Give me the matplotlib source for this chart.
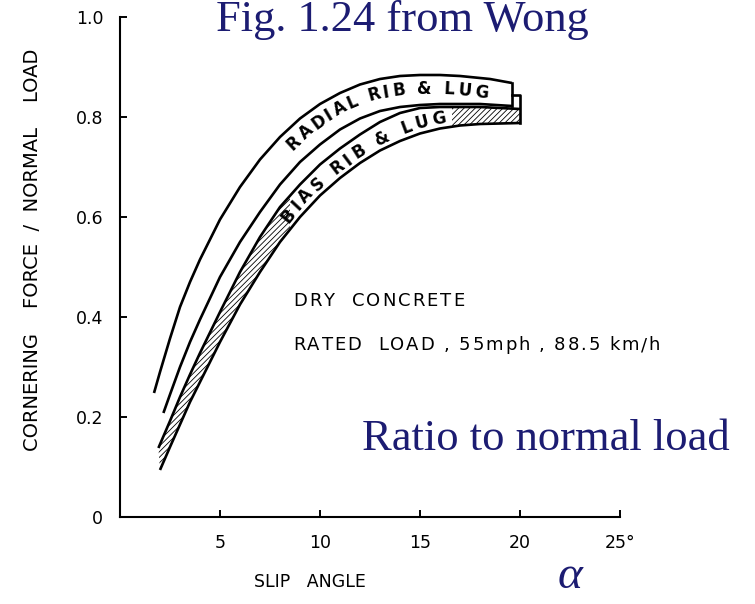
import numpy as np
import matplotlib
matplotlib.use("Agg")
import matplotlib.pyplot as plt
from matplotlib.patches import Polygon

plt.rcParams["font.family"] = ["DejaVu Sans"]
plt.rcParams["hatch.linewidth"] = 0.6

# curves (slip angle in degrees, cornering force / normal load)
radial_top_x = [1.7, 2.0, 2.5, 3.0, 3.5, 4.0, 5.0, 6.0, 7.0, 8.0, 9.0, 10.0, 11.0, 12.0, 13.0, 14.0, 15.0, 16.0, 17.0, 18.5, 19.6]
radial_top_y = [0.248, 0.29, 0.357, 0.42, 0.47, 0.515, 0.595, 0.66, 0.715, 0.76, 0.797, 0.826, 0.848, 0.865, 0.876, 0.882, 0.884, 0.884, 0.882, 0.876, 0.868]

radial_bot_x = [2.17, 2.5, 3.0, 3.5, 4.0, 5.0, 6.0, 7.0, 8.0, 9.0, 10.0, 11.0, 12.0, 13.0, 14.0, 15.0, 16.0, 18.0, 19.6]
radial_bot_y = [0.208, 0.245, 0.30, 0.35, 0.395, 0.48, 0.55, 0.61, 0.665, 0.71, 0.745, 0.775, 0.797, 0.812, 0.82, 0.824, 0.826, 0.826, 0.822]

bias_top_x = [1.92, 2.5, 3.0, 3.5, 4.0, 5.0, 6.0, 7.0, 8.0, 9.0, 10.0, 11.0, 12.0, 13.0, 14.0, 15.0, 16.0, 18.0, 20.0]
bias_top_y = [0.138, 0.192, 0.24, 0.285, 0.328, 0.41, 0.49, 0.56, 0.62, 0.665, 0.705, 0.737, 0.765, 0.79, 0.808, 0.818, 0.82, 0.82, 0.816]

bias_bot_x = [2.0, 2.5, 3.0, 3.5, 4.0, 5.0, 6.0, 7.0, 8.0, 9.0, 10.0, 11.0, 12.0, 13.0, 14.0, 15.0, 16.0, 17.0, 18.0, 20.0]
bias_bot_y = [0.094, 0.14, 0.185, 0.23, 0.27, 0.35, 0.425, 0.49, 0.55, 0.60, 0.643, 0.678, 0.708, 0.733, 0.752, 0.767, 0.777, 0.783, 0.786, 0.788]

bias_cap_top = 0.845
bias_label_span = (8.5, 16.6)

x_ticks = [5, 10, 15, 20, 25]
x_tick_labels = ["5", "10", "15", "20", "25\u00b0"]
y_ticks = [0, 0.2, 0.4, 0.6, 0.8, 1.0]
y_tick_labels = ["0", "0.2", "0.4", "0.6", "0.8", "1.0"]

NAVY = "#1c1c72"
LW = 1.9


def curved_text(ax, gx, gy, s, x0, x1, offset, **kw):
    """place characters of s along guide curve (gx, gy) between x0 and x1,
    shifted offset pixels along the normal"""
    r = ax.figure.canvas.get_renderer()
    pts = ax.transData.transform(np.column_stack([gx, gy]))
    cum = np.concatenate([[0], np.cumsum(np.hypot(*np.diff(pts, axis=0).T))])
    s0 = np.interp(x0, gx, cum)
    s1 = np.interp(x1, gx, cum)
    arts, ws = [], []
    for ch in s:
        t = ax.text(0, 0, ch, ha="center", va="baseline", rotation_mode="anchor",
                    clip_on=False, **kw)
        w = t.get_window_extent(r).width
        arts.append(t)
        ws.append(w)
    gap = (s1 - s0 - sum(ws)) / (len(s) - 1)
    pos = s0
    for t, w in zip(arts, ws):
        m = pos + w / 2
        px = np.interp(m, cum, pts[:, 0])
        py = np.interp(m, cum, pts[:, 1])
        dx = np.interp(m + 5, cum, pts[:, 0]) - np.interp(m - 5, cum, pts[:, 0])
        dy = np.interp(m + 5, cum, pts[:, 1]) - np.interp(m - 5, cum, pts[:, 1])
        n = np.hypot(dx, dy)
        tx, ty = dx / n, dy / n
        px += -ty * offset
        py += tx * offset
        t.set_position(ax.transData.inverted().transform((px, py)))
        t.set_rotation(np.degrees(np.arctan2(ty, tx)))
        pos += w + gap


fig = plt.figure(figsize=(7.55, 6.04), dpi=100)
ax = fig.add_axes([120 / 755, 87 / 604, 500 / 755, 500 / 604])
ax.set_xlim(0, 25)
ax.set_ylim(0, 1.0)

# bias band: hatched, white where the label sits
bias_poly = Polygon(
    np.column_stack([bias_top_x + bias_bot_x[::-1], bias_top_y + bias_bot_y[::-1]]),
    closed=True, facecolor="white", edgecolor="black", hatch="//////", linewidth=0, zorder=1,
)
ax.add_patch(bias_poly)
blank = ax.axvspan(*bias_label_span, color="white", zorder=1.5, linewidth=0)
blank.set_clip_path(bias_poly)

for xs, ys in [(radial_top_x, radial_top_y), (radial_bot_x, radial_bot_y),
               (bias_top_x, bias_top_y), (bias_bot_x, bias_bot_y)]:
    ax.plot(xs, ys, color="black", lw=LW, solid_capstyle="butt", zorder=3)

# end caps
ax.plot([radial_top_x[-1], radial_bot_x[-1]], [radial_top_y[-1], radial_bot_y[-1]], color="black", lw=LW, zorder=3)
ax.plot([radial_top_x[-1], bias_bot_x[-1], bias_bot_x[-1]],
        [bias_cap_top, bias_cap_top, bias_bot_y[-1]], color="black", lw=LW, zorder=3)

curved_text(ax, radial_top_x, radial_top_y, "RADIAL RIB & LUG", 8.0, 18.5, -19,
            fontsize=12, fontweight="bold", zorder=4)
curved_text(ax, bias_bot_x, bias_bot_y, "BIAS RIB & LUG", 8.6, 16.4, 5,
            fontsize=12, fontweight="bold", zorder=4)

# axes styling
for side in ["top", "right"]:
    ax.spines[side].set_visible(False)
for side in ["left", "bottom"]:
    ax.spines[side].set_linewidth(1.5)
ax.set_xticks(x_ticks)
ax.set_xticklabels(x_tick_labels)
ax.set_yticks(y_ticks)
ax.set_yticklabels(y_tick_labels)
ax.tick_params(direction="in", length=5, width=1.4, labelsize=12.5, pad=12)

ax.set_ylabel("CORNERING    FORCE  /  NORMAL    LOAD", fontsize=14)
ax.yaxis.set_label_coords(-0.156, 0.535)
ax.set_xlabel("SLIP   ANGLE", fontsize=12.5)
ax.xaxis.set_label_coords(0.38, -0.112)

# notes, spread to the width they take in the figure
curved_text(ax, [0, 30], [0.422, 0.422], "DRY  CONCRETE", 8.65, 17.2, 0, fontsize=13)
curved_text(ax, [0, 30], [0.334, 0.334], "RATED  LOAD , 55mph , 88.5 km/h", 8.65, 27.0, 0, fontsize=13)

ax.text(12.1, 0.134, "Ratio to normal load", fontsize=32, family="Liberation Serif",
        color=NAVY, va="baseline", ha="left")
ax.text(22.5, -0.12, "\u03b1", fontsize=34, family="Liberation Serif", style="italic",
        color=NAVY, va="center", ha="center", clip_on=False)
fig.text(0.533, 0.949, "Fig. 1.24 from Wong", fontsize=32, family="Liberation Serif",
         color=NAVY, va="baseline", ha="center")

fig.savefig("out.png", dpi=100)
